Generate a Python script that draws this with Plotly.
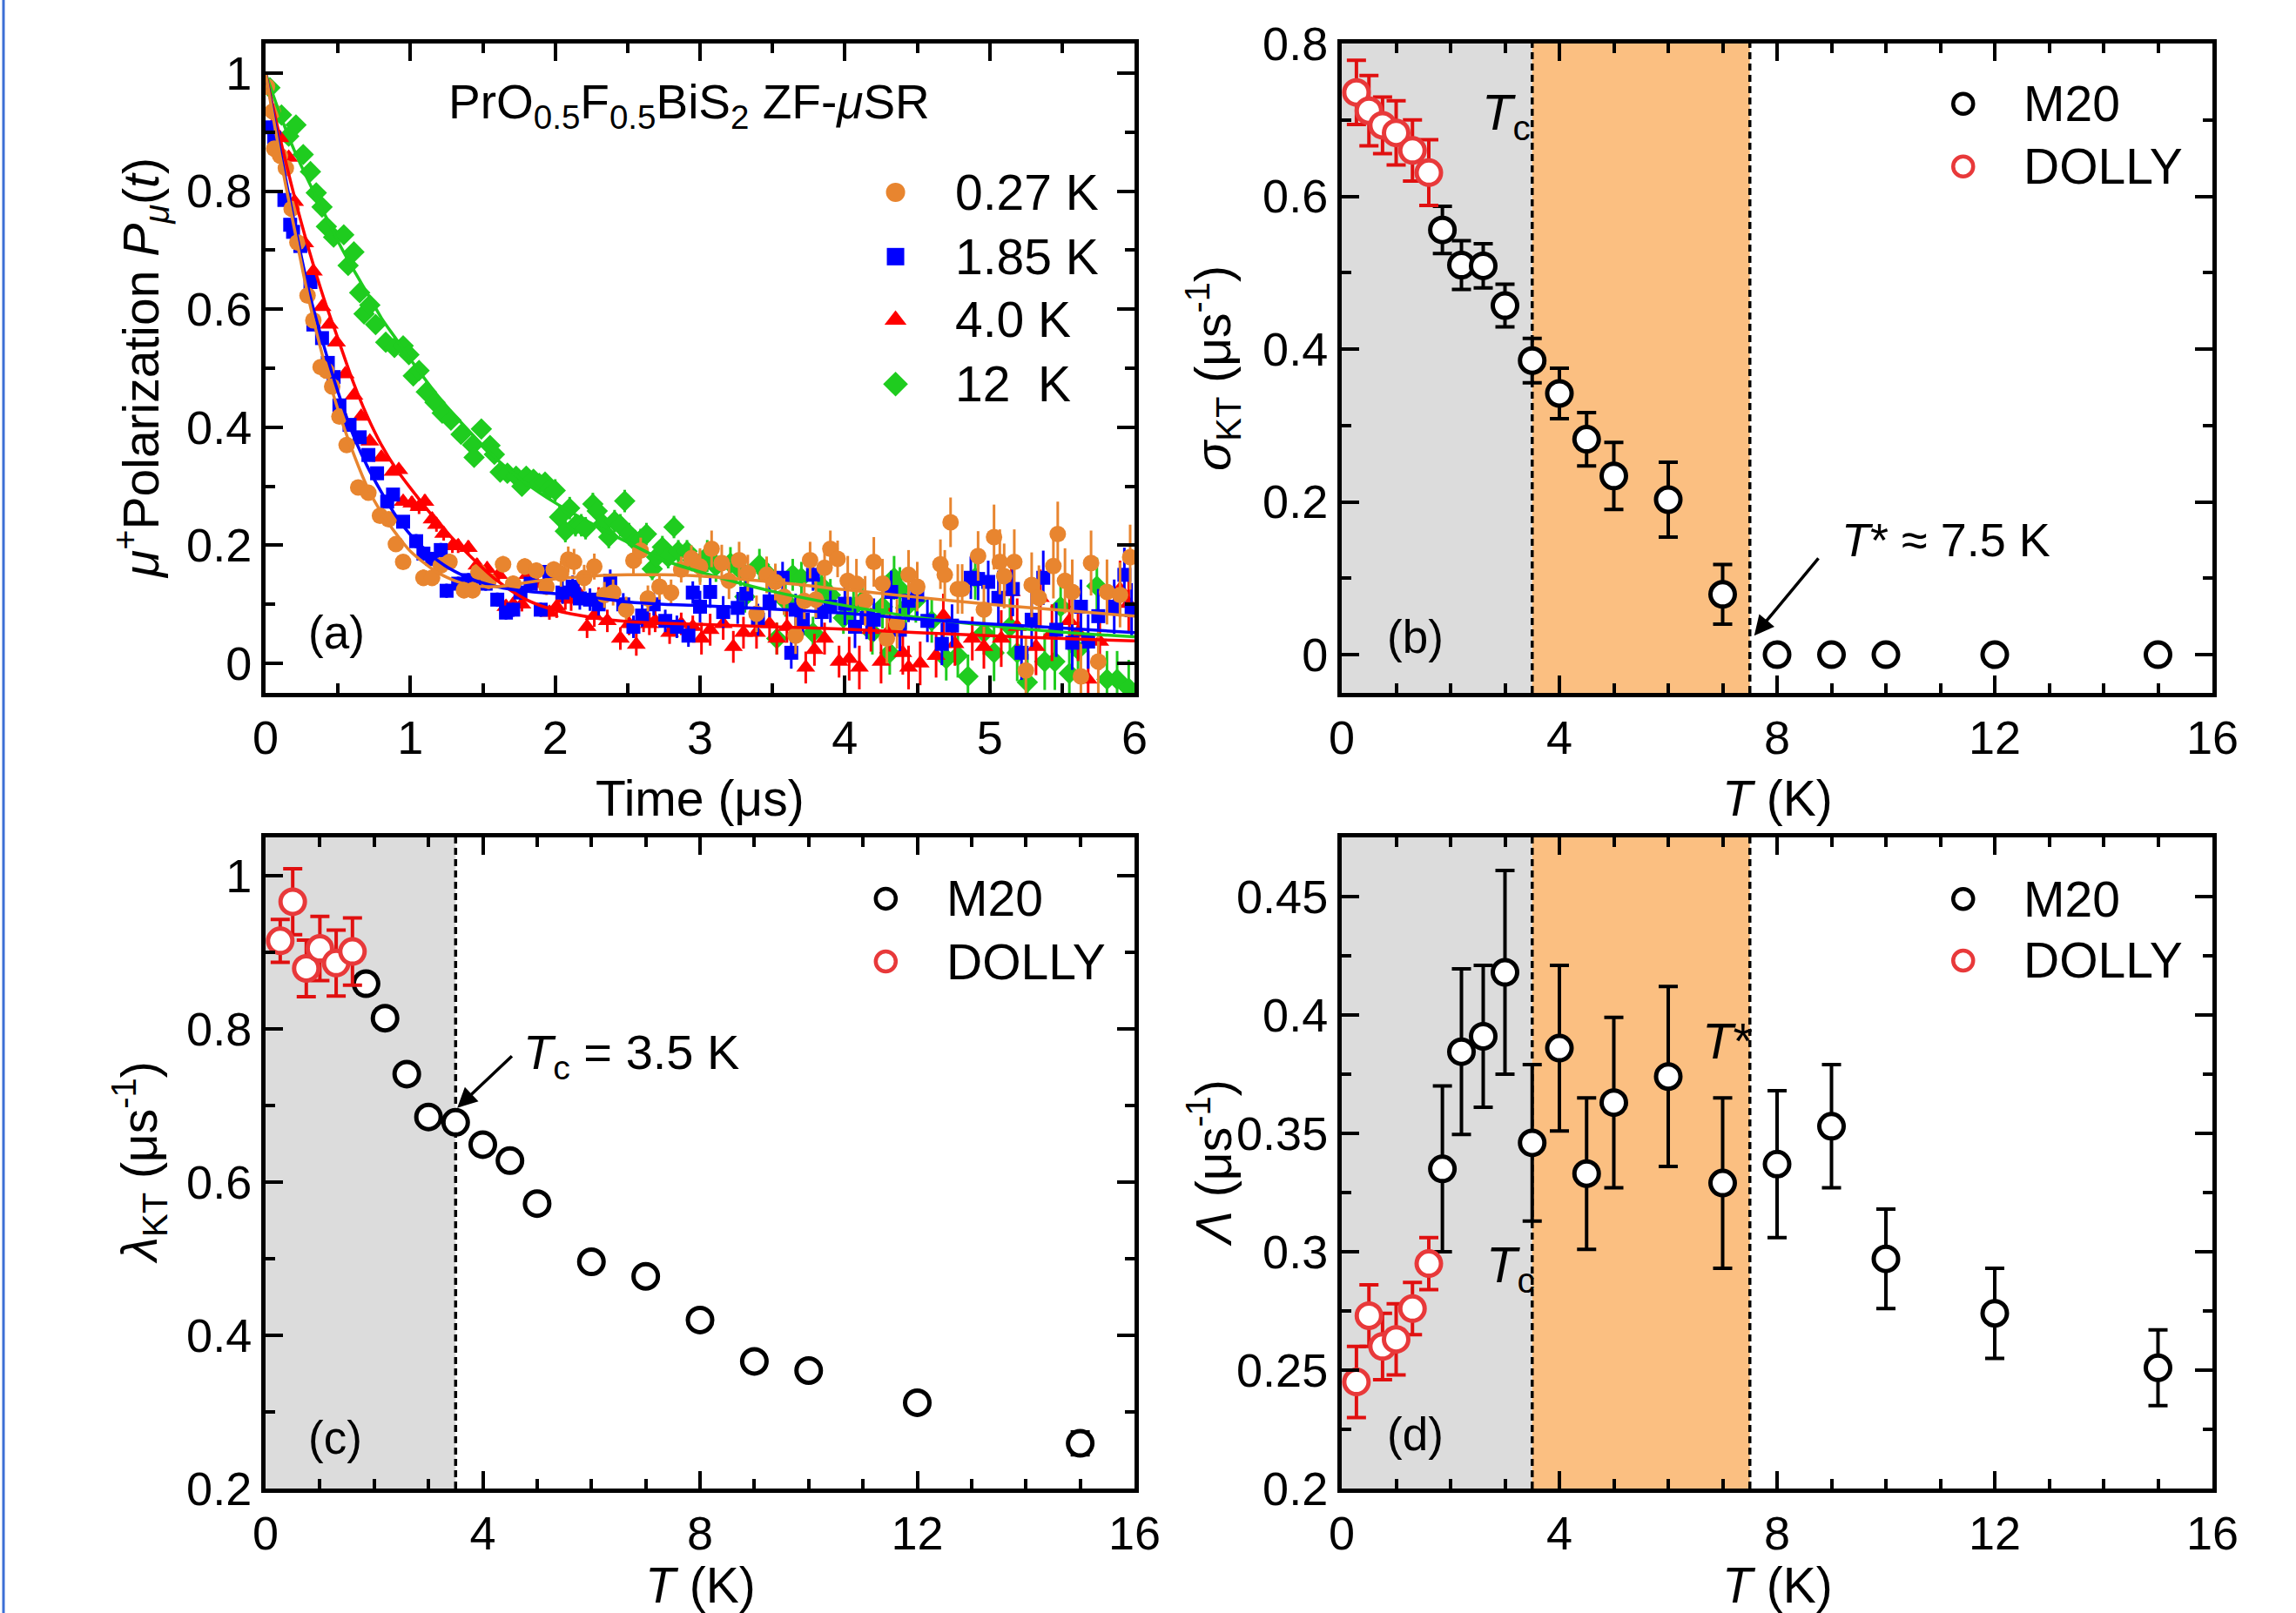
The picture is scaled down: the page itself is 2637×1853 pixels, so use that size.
import plotly.graph_objects as go

W, H = 2637, 1853
FONT = "Liberation Sans, Arial, sans-serif"

# ---------------- Panel (a): ZF-muSR polarization ----------------
t_027 = [0.01,0.05,0.06,0.10,0.14,0.18,0.22,0.29,0.33,0.38,0.42,0.46,0.51,0.56,0.64,0.71,0.79,0.85,0.90,0.95,1.09,1.15,1.21,1.27,1.37,1.43,
         1.47,1.54,1.64,1.71,1.79,1.87,1.94,1.99,2.04,2.09,2.13,2.20,2.27,2.34,2.40,2.49,2.54,2.59,2.64,2.72,2.80,2.87,2.94,3.00,
         3.08,3.15,3.20,3.27,3.33,3.39,3.46,3.52,3.58,3.66,3.72,3.76,3.80,3.86,3.90,3.95,4.02,4.08,4.14,4.20,4.26,4.29,4.36,4.44,4.50,
         4.66,4.69,4.73,4.78,4.81,4.92,4.96,5.03,5.07,5.10,5.17,5.25,5.29,5.34,5.44,5.47,5.52,5.57,5.63,5.70,5.75,5.81,5.90,5.97]
p_027 = [0.977,0.935,0.872,0.86,0.839,0.77,0.713,0.623,0.581,0.502,0.496,0.469,0.418,0.37,0.298,0.289,0.25,0.244,0.202,0.172,0.145,0.145,0.166,0.172,0.124,0.124,
         0.155,0.14,0.168,0.135,0.164,0.157,0.13,0.159,0.152,0.176,0.172,0.145,0.164,0.116,0.12,0.091,0.174,0.191,0.11,0.13,0.12,0.159,0.178,0.164,
         0.194,0.17,0.14,0.175,0.153,0.084,0.15,0.138,0.113,0.047,0.106,0.175,0.108,0.162,0.194,0.177,0.14,0.135,0.106,0.172,0.135,0.042,0.067,0.15,0.13,
         0.168,0.15,0.239,0.126,0.126,0.182,0.091,0.214,0.172,0.148,0.172,-0.012,0.133,0.111,0.165,0.219,0.14,0.121,-0.022,0.17,0.003,0.121,0.116,0.18]

t_185 = [0.02,0.06,0.13,0.17,0.19,0.24,0.31,0.33,0.39,0.43,0.47,0.51,0.58,0.65,0.71,0.77,0.84,0.88,0.95,1.04,1.09,1.15,1.21,1.25,1.33,1.40,1.47,
         1.52,1.60,1.66,1.71,1.76,1.83,1.90,1.96,2.05,2.12,2.17,2.24,2.30,2.38,2.47,2.54,2.60,2.68,2.76,2.84,2.92,2.95,
         3.00,3.07,3.16,3.26,3.32,3.40,3.48,3.57,3.63,3.66,3.71,3.78,3.84,3.90,4.00,4.07,4.15,4.20,4.32,4.38,4.44,
         4.50,4.57,4.67,4.74,4.87,4.92,4.99,5.06,5.16,5.22,5.29,5.37,5.46,5.57,5.63,5.68,5.75,5.86,5.93,5.98]
p_185 = [0.908,0.89,0.785,0.743,0.731,0.707,0.646,0.574,0.551,0.509,0.485,0.437,0.404,0.383,0.353,0.322,0.274,0.286,0.24,0.207,0.186,0.177,0.192,0.123,0.135,0.141,0.147,
         0.135,0.108,0.086,0.091,0.12,0.135,0.091,0.155,0.12,0.13,0.11,0.108,0.1,0.14,0.1,0.062,0.081,0.1,0.072,0.062,0.047,0.12,
         0.096,0.121,0.087,0.094,0.118,0.074,0.105,0.145,0.018,0.091,0.074,0.15,0.087,0.096,0.101,0.062,0.077,0.074,0.121,0.057,0.106,
         0.116,0.072,0.033,0.064,0.145,0.143,0.138,0.111,0.126,0.018,0.074,0.145,0.057,0.035,0.096,0.037,0.08,0.096,0.15,0.09]

t_40 = [0.04,0.10,0.16,0.20,0.27,0.33,0.39,0.44,0.49,0.55,0.61,0.66,0.72,0.80,0.88,0.92,0.95,1.01,1.06,1.10,1.15,1.18,1.23,1.29,1.33,1.40,1.46,
        1.53,1.61,1.66,1.71,1.77,1.81,1.87,1.96,2.01,2.07,2.11,2.16,2.22,2.27,2.30,2.36,2.45,2.51,2.56,2.61,2.65,2.69,2.79,2.87,2.95,
        3.01,3.07,3.16,3.23,3.30,3.39,3.48,3.53,3.60,3.73,3.79,3.86,3.96,4.03,4.10,4.18,4.25,4.31,4.40,4.44,
        4.52,4.63,4.68,4.76,4.88,4.96,5.08,5.15,5.19,5.32,5.35,5.43,5.55,5.61,5.68,5.76,5.90,5.96]
p_40 = [0.908,0.89,0.857,0.782,0.712,0.664,0.604,0.574,0.544,0.49,0.454,0.418,0.376,0.349,0.325,0.328,0.274,0.271,0.265,0.274,0.244,0.235,0.22,0.199,0.199,0.196,0.166,
        0.16,0.15,0.096,0.1,0.1,0.15,0.135,0.086,0.096,0.11,0.108,0.12,0.062,0.081,0.11,0.072,0.042,0.067,0.032,0.072,0.067,0.072,0.052,0.067,0.062,
        0.042,0.057,0.067,0.028,0.052,0.052,0.067,0.042,0.062,-0.007,0.023,0.042,0.003,0.008,-0.007,0.057,0.003,0.057,0.018,-0.007,
        0.0,0.013,0.081,0.033,0.042,0.028,0.042,0.121,0.062,0.028,0.111,0.052,0.072,0.052,-0.027,0.037,0.126,0.101]

t_12 = [0.03,0.11,0.16,0.21,0.26,0.31,0.35,0.39,0.42,0.47,0.54,0.57,0.61,0.65,0.68,0.72,0.76,0.83,0.89,0.95,0.99,1.02,1.06,1.11,1.17,1.22,1.28,1.35,1.43,1.44,1.49,
        1.55,1.58,1.62,1.67,1.73,1.77,1.80,1.85,1.89,1.93,1.96,2.00,2.03,2.07,2.10,2.14,2.18,2.21,2.26,2.29,2.33,2.37,2.41,2.45,2.48,2.51,2.55,2.59,2.63,2.67,2.70,2.74,2.78,2.82,2.85,2.91,2.95,
        3.00,3.05,3.11,3.21,3.28,3.31,3.41,3.46,3.53,3.59,3.64,3.70,3.78,3.84,3.90,3.99,4.06,4.12,4.19,4.26,4.31,4.34,4.38,4.42,4.49,
        4.60,4.70,4.78,4.85,4.90,4.96,5.03,5.14,5.19,5.26,5.38,5.45,5.49,5.55,5.61,5.74,5.81,5.88,5.96]
p_12 = [0.975,0.929,0.893,0.912,0.862,0.833,0.797,0.773,0.74,0.722,0.726,0.674,0.697,0.628,0.592,0.607,0.574,0.544,0.535,0.538,0.523,0.487,0.496,0.46,0.442,0.424,0.412,0.388,0.37,0.349,0.397,
        0.369,0.354,0.324,0.322,0.317,0.3,0.317,0.312,0.305,0.307,0.295,0.293,0.248,0.224,0.263,0.234,0.234,0.229,0.27,0.258,0.236,0.214,0.241,0.234,0.275,0.219,0.207,0.209,0.219,0.16,0.18,0.197,0.18,0.231,0.19,0.19,0.175,
        0.165,0.182,0.165,0.17,0.158,0.113,0.167,0.153,0.042,0.106,0.15,0.145,0.052,0.131,0.116,0.077,0.096,0.106,0.052,0.096,0.018,0.145,0.126,0.094,0.106,
        0.072,0.008,0.013,-0.022,0.145,0.052,0.018,0.062,0.018,-0.032,0.003,0.003,0.096,-0.017,0.023,0.131,-0.027,-0.027,-0.042]

# error bar size read per 1-us time bin
err_bin_edges = [0, 1, 2, 3, 4, 5, 6.01]
err_027 = [0.007, 0.014, 0.022, 0.031, 0.042, 0.055]
err_185 = [0.006, 0.012, 0.019, 0.027, 0.036, 0.046]
err_40 = [0.006, 0.012, 0.019, 0.027, 0.037, 0.048]
err_12 = [0.006, 0.012, 0.019, 0.027, 0.037, 0.048]

# fitted curves
t_fit = [0,0.1,0.2,0.3,0.4,0.5,0.6,0.7,0.8,0.9,1.0,1.2,1.4,1.6,1.8,2.0,2.25,2.5,2.75,3.0,3.5,4.0,4.5,5.0,5.5,6.0]
fit_027 = [1.0,0.86,0.735,0.615,0.515,0.43,0.36,0.30,0.255,0.22,0.19,0.152,0.133,0.13,0.137,0.143,0.148,0.15,0.15,0.148,0.138,0.125,0.112,0.10,0.09,0.08]
fit_185 = [1.0,0.87,0.745,0.63,0.54,0.46,0.39,0.335,0.29,0.25,0.218,0.172,0.145,0.13,0.122,0.118,0.112,0.104,0.10,0.098,0.092,0.085,0.075,0.067,0.06,0.052]
fit_40 = [1.0,0.89,0.79,0.70,0.62,0.55,0.48,0.42,0.37,0.33,0.297,0.236,0.185,0.14,0.108,0.09,0.078,0.071,0.068,0.066,0.062,0.058,0.052,0.047,0.042,0.038]
fit_12 = [1.0,0.93,0.868,0.815,0.765,0.715,0.67,0.628,0.585,0.55,0.515,0.45,0.395,0.345,0.305,0.272,0.237,0.205,0.175,0.155,0.122,0.098,0.078,0.064,0.053,0.045]

labels_a = ["0.27 K", "1.85 K", "4.0 K", "12\u00a0\u00a0K"]
colors_a = ["#E8852F", "#0000FF", "#FF0000", "#1FCC1F"]

# ---------------- Panels (b)-(d) ----------------
T_M20 = [1.85, 2.2, 2.6, 3.0, 3.5, 4.0, 4.5, 5.0, 6.0, 7.0, 8.0, 9.0, 10.0, 12.0, 15.0]
T_DOLLY = [0.27, 0.5, 0.75, 1.0, 1.3, 1.6]

sigma_M20 = [0.556, 0.51, 0.509, 0.457, 0.385, 0.342, 0.282, 0.234, 0.203, 0.079, 0, 0, 0, 0, 0]
sigma_M20_err = [0.031, 0.032, 0.029, 0.028, 0.029, 0.033, 0.035, 0.044, 0.049, 0.039, 0, 0, 0, 0, 0]
sigma_DOLLY = [0.736, 0.712, 0.693, 0.683, 0.66, 0.631]
sigma_DOLLY_err = [0.042, 0.046, 0.037, 0.042, 0.04, 0.043]

lambda_M20 = [0.859, 0.814, 0.741, 0.685, 0.678, 0.649, 0.628, 0.572, 0.496, 0.477, 0.42, 0.366, 0.354, 0.312, 0.259]
lambda_M20_err = [0.012, 0.012, 0.01, 0.008, 0.008, 0.008, 0.008, 0.008, 0.008, 0.008, 0.008, 0.008, 0.008, 0.008, 0.015]
lambda_DOLLY = [0.915, 0.966, 0.879, 0.905, 0.886, 0.901]
lambda_DOLLY_err = [0.028, 0.043, 0.037, 0.042, 0.043, 0.044]

Lam_M20 = [0.335, 0.3845, 0.391, 0.418, 0.346, 0.386, 0.333, 0.363, 0.374, 0.329, 0.337, 0.353, 0.297, 0.274, 0.251]
Lam_M20_err = [0.035, 0.035, 0.030, 0.043, 0.033, 0.035, 0.032, 0.036, 0.038, 0.036, 0.031, 0.026, 0.021, 0.019, 0.016]
Lam_DOLLY = [0.245, 0.273, 0.26, 0.263, 0.276, 0.295]
Lam_DOLLY_err = [0.015, 0.013, 0.014, 0.015, 0.011, 0.011]

Tc = 3.5
Tstar = 7.5

BLACK = "#000000"
RED_LINE = "#E8393A"
RED_ERR = "#E01010"
GRAY = "#DCDCDC"
ORANGE = "#FBBF81"


def bin_err(ts, errs):
    out = []
    for t in ts:
        for i in range(len(errs)):
            if err_bin_edges[i] <= t < err_bin_edges[i + 1]:
                out.append(errs[i])
                break
    return out


fig = go.Figure()

# ---- panel (a) traces ----
symbols_a = ["circle", "square", "triangle-up", "diamond"]
sizes_a = [19, 16, 19, 19]
series_a = [(t_027, p_027, err_027, fit_027), (t_185, p_185, err_185, fit_185),
            (t_40, p_40, err_40, fit_40), (t_12, p_12, err_12, fit_12)]
order = [3, 2, 1, 0]
for k in order:
    ts, ps, es, fit = series_a[k]
    fig.add_trace(go.Scatter(
        x=ts, y=ps, mode="markers", xaxis="x", yaxis="y", showlegend=False,
        marker=dict(symbol=symbols_a[k], size=sizes_a[k], color=colors_a[k], line=dict(width=0)),
        error_y=dict(type="data", array=bin_err(ts, es), visible=True, color=colors_a[k], thickness=3, width=0)))
for k in order:
    ts, ps, es, fit = series_a[k]
    fig.add_trace(go.Scatter(x=t_fit, y=fit, mode="lines", xaxis="x", yaxis="y", showlegend=False,
                             line=dict(color=colors_a[k], width=3.5, shape="spline", smoothing=0.8)))

# legend of panel (a)
leg_a_y = [0.798, 0.689, 0.582, 0.473]
for k in range(4):
    fig.add_trace(go.Scatter(x=[4.35], y=[leg_a_y[k]], mode="markers", xaxis="x", yaxis="y", showlegend=False,
                             marker=dict(symbol=symbols_a[k], size=[22, 20, 22, 22][k], color=colors_a[k], line=dict(width=0))))

# ---- panels (b)-(d) ----
panels = [("x2", "y2", sigma_M20, sigma_M20_err, sigma_DOLLY, sigma_DOLLY_err),
          ("x3", "y3", lambda_M20, lambda_M20_err, lambda_DOLLY, lambda_DOLLY_err),
          ("x4", "y4", Lam_M20, Lam_M20_err, Lam_DOLLY, Lam_DOLLY_err)]
for xa, ya, ym, em, yd, ed in panels:
    fig.add_trace(go.Scatter(
        x=T_M20, y=ym, mode="markers", xaxis=xa, yaxis=ya, showlegend=False,
        marker=dict(symbol="circle", size=28, color="white", line=dict(color=BLACK, width=5)),
        error_y=dict(type="data", array=em, visible=True, color=BLACK, thickness=4, width=11)))
    fig.add_trace(go.Scatter(
        x=T_DOLLY, y=yd, mode="markers", xaxis=xa, yaxis=ya, showlegend=False,
        marker=dict(symbol="circle", size=28, color="white", line=dict(color=RED_LINE, width=5)),
        error_y=dict(type="data", array=ed, visible=True, color=RED_ERR, thickness=4, width=11)))

# legends of panels (b)-(d)
leg_pos = {"2": (0.721, 0.639), "3": (0.97, 0.888), "4": (0.449, 0.423)}
for n, (y1, y2) in leg_pos.items():
    fig.add_trace(go.Scatter(x=[11.42], y=[y1], mode="markers", xaxis="x" + n, yaxis="y" + n, showlegend=False,
                             marker=dict(symbol="circle", size=23, color="white", line=dict(color=BLACK, width=4.5))))
    fig.add_trace(go.Scatter(x=[11.42], y=[y2], mode="markers", xaxis="x" + n, yaxis="y" + n, showlegend=False,
                             marker=dict(symbol="circle", size=23, color="white", line=dict(color=RED_LINE, width=4.5))))

# ---------------- layout ----------------
xa_dom = [305 / W, 1303 / W]
xb_dom = [1541 / W, 2541 / W]
ytop = [1 - 796 / H, 1 - 50 / H]
ybot = [1 - 1710 / H, 1 - 962 / H]


def axis(domain, anchor, rng, dtick, tick0, minor_dtick):
    return dict(domain=domain, anchor=anchor, range=rng, tickmode="linear", tick0=tick0, dtick=dtick,
                automargin=False,
                showline=True, linewidth=5, linecolor="black", mirror="allticks",
                ticks="inside", ticklen=20, tickwidth=4, tickcolor="black",
                minor=dict(ticks="inside", ticklen=11, tickwidth=4, tickcolor="black", dtick=minor_dtick, tick0=tick0,
                           showgrid=False),
                showgrid=False, zeroline=False, layer="above traces",
                tickfont=dict(family=FONT, size=54, color="black"))


layout = dict(
    width=W, height=H, margin=dict(l=0, r=0, t=0, b=0, pad=0, autoexpand=False),
    paper_bgcolor="white", plot_bgcolor="white", showlegend=False,
    font=dict(family=FONT, color="black"),
    xaxis=axis(xa_dom, "y", [0, 6], 1, 0, 0.5),
    yaxis=axis(ytop, "x", [-0.05, 1.05], 0.2, 0, 0.1),
    xaxis2=axis(xb_dom, "y2", [0, 16], 4, 0, 1),
    yaxis2=axis(ytop, "x2", [-0.05, 0.8], 0.2, 0, 0.1),
    xaxis3=axis(xa_dom, "y3", [0, 16], 4, 0, 1),
    yaxis3=axis(ybot, "x3", [0.2, 1.05], 0.2, 0.2, 0.1),
    xaxis4=axis(xb_dom, "y4", [0, 16], 4, 0, 1),
    yaxis4=axis(ybot, "x4", [0.2, 0.475], 0.05, 0.2, 0.025),
)
fig.update_layout(**layout)

shapes = []
for n in ["2", "3", "4"]:
    shapes.append(dict(type="rect", xref="x" + n, yref="y" + n + " domain", x0=0, x1=Tc, y0=0, y1=1,
                       fillcolor=GRAY, line=dict(width=0), layer="below"))
    if n != "3":
        shapes.append(dict(type="rect", xref="x" + n, yref="y" + n + " domain", x0=Tc, x1=Tstar, y0=0, y1=1,
                           fillcolor=ORANGE, line=dict(width=0), layer="below"))
    for xv in ([Tc] if n == "3" else [Tc, Tstar]):
        shapes.append(dict(type="line", xref="x" + n, yref="y" + n + " domain", x0=xv, x1=xv, y0=0, y1=1,
                           line=dict(color="black", width=3.5, dash="8px,5px"), layer="below"))
# thin blue frame line at the left edge of the picture
shapes.append(dict(type="line", xref="paper", yref="paper", x0=4 / W, x1=4 / W, y0=0, y1=1,
                   line=dict(color="#3D6FD6", width=3)))
fig.update_layout(shapes=shapes)

ann = []


def text(x, y, s, xref, yref, size=54, xanchor="left", yanchor="middle", angle=0):
    ann.append(dict(x=x, y=y, text=s, xref=xref, yref=yref, showarrow=False, xanchor=xanchor, yanchor=yanchor,
                    textangle=angle, font=dict(family=FONT, size=size, color="black")))


# axis titles
text(804 / W, 1 - 917 / H, "Time (\u03bcs)", "paper", "paper", 57, "center")
text(2041 / W, 1 - 917 / H, "<i>T</i> (K)", "paper", "paper", 57, "center")
text(804 / W, 1 - 1821 / H, "<i>T</i> (K)", "paper", "paper", 57, "center")
text(2041 / W, 1 - 1821 / H, "<i>T</i> (K)", "paper", "paper", 57, "center")
text(162 / W, 1 - 423 / H, "<i>\u03bc</i><sup>+</sup>Polarization <i>P</i><sub><i>\u03bc</i></sub>(<i>t</i>)",
     "paper", "paper", 57, "center", "middle", -90)
text(1393 / W, 1 - 423 / H, "<i>\u03c3</i><sub>KT</sub> (\u03bcs<sup>-1</sup>)", "paper", "paper", 57, "center", "middle", -90)
text(160 / W, 1 - 1336 / H, "<i>\u03bb</i><sub>KT</sub> (\u03bcs<sup>-1</sup>)", "paper", "paper", 57, "center", "middle", -90)
text(1390 / W, 1 - 1336 / H, "<i>\u039b</i> (\u03bcs<sup>-1</sup>)", "paper", "paper", 57, "center", "middle", -90)

# panel (a) title, legend text, label
text(1.25, 0.945, "PrO<sub>0.5</sub>F<sub>0.5</sub>BiS<sub>2</sub> ZF-<i>\u03bc</i>SR", "x", "y", 55)
for k in range(4):
    text(4.75, leg_a_y[k], labels_a[k], "x", "y", 57)
text(0.28, 0.052, "(a)", "x", "y", 53)

# panel legends text
for n, (y1, y2) in leg_pos.items():
    text(12.5, y1, "M20", "x" + n, "y" + n, 57)
    text(12.5, y2, "DOLLY", "x" + n, "y" + n, 57)

text(0.8, 0.024, "(b)", "x2", "y2", 53)
text(0.75, 0.267, "(c)", "x3", "y3", 53)
text(0.8, 0.223, "(d)", "x4", "y4", 53)

text(2.55, 0.705, "<i>T</i><sub>c</sub>", "x2", "y2", 58)
text(2.62, 0.293, "<i>T</i><sub>c</sub>", "x4", "y4", 58)
text(6.6, 0.389, "<i>T</i>*", "x4", "y4", 58)
text(9.15, 0.15, "<i>T</i>* \u2248 7.5 K", "x2", "y2", 54)
text(4.72, 0.765, "<i>T</i><sub>c</sub> = 3.5 K", "x3", "y3", 56)

# arrows
ann.append(dict(x=7.58, y=0.025, ax=8.78, ay=0.128, xref="x2", yref="y2", axref="x2", ayref="y2", text="",
                showarrow=True, arrowhead=2, arrowsize=1.3, arrowwidth=3.5, arrowcolor="black"))
ann.append(dict(x=3.53, y=0.697, ax=4.56, ay=0.766, xref="x3", yref="y3", axref="x3", ayref="y3", text="",
                showarrow=True, arrowhead=2, arrowsize=1.3, arrowwidth=3.5, arrowcolor="black"))

fig.update_layout(annotations=ann)

fig.write_html("out.html", config={"displayModeBar": False},
               post_script="document.body.style.margin='0';")
